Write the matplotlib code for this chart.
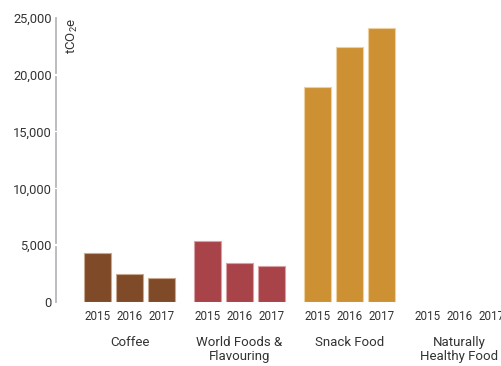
import numpy as np
import matplotlib.pyplot as plt
import matplotlib.transforms as mtransforms

plt.rcParams['font.family'] = ['Roboto', 'DejaVu Sans']
plt.rcParams['mathtext.fontset'] = 'custom'
plt.rcParams['mathtext.rm'] = 'Roboto'

categories = ['Coffee', 'World Foods &\nFlavouring', 'Snack Food', 'Naturally\nHealthy Food']
years = ['2015', '2016', '2017']
values = [
    [4300, 2480, 2100],
    [5370, 3450, 3190],
    [18950, 22450, 24090],
    [0, 0, 0],
]
colors = ['#7f4a27', '#a8434a', '#cd9133', '#7a9a3a']
edges = ['#c9a88f', '#d9a0a4', '#ecd0a0', '#c0d0a0']

fig = plt.figure(figsize=(5.02, 3.66), dpi=100)
ax = fig.add_axes([56 / 502, 64 / 366, 1 - 56 / 502, (302 - 18) / 366])

group_gap = 110 / 32
xs, xl = [], []
for g, cat in enumerate(categories):
    for j, yr in enumerate(years):
        x = g * group_gap + (j - 1)
        if values[g][j] > 0:
            ax.bar(x, values[g][j], width=27 / 32, color=colors[g],
                   edgecolor=edges[g], linewidth=0.8)
        xs.append(x)
        xl.append(yr)
    ax.text(g * group_gap, -0.12, cat, transform=mtransforms.blended_transform_factory(ax.transData, ax.transAxes),
            ha='center', va='top', fontsize=9.5, color='#333333', linespacing=1.05)

ax.set_xlim(-2.3, (502 - 129.5) / 32)
ax.set_ylim(0, 25000)
ax.set_xticks(xs)
ax.set_xticklabels(xl, fontsize=8.4, color='#333333')
yt = np.arange(0, 25001, 5000)
ax.set_yticks(yt)
ax.set_yticklabels([f'{v:,}' for v in yt], fontsize=9.3, color='#333333')
ax.tick_params(axis='both', length=0)
ax.tick_params(axis='x', pad=6)
ax.tick_params(axis='y', pad=3)
for s in ax.spines.values():
    s.set_visible(False)

# axis line broken at each tick
ytrans = mtransforms.blended_transform_factory(ax.transAxes, ax.transData)
for k in range(5):
    lo = k * 5000 + (0 if k == 0 else 160)
    hi = (k + 1) * 5000 - (0 if k == 4 else 160)
    ax.plot([0, 0], [lo, hi], color='#b8b8bc', lw=1.3, transform=ytrans, clip_on=False)

ax.text(0.02, 25050, r'tCO$_2$e', transform=ytrans, rotation=90,
        ha='left', va='top', fontsize=9.5, color='#333333')

fig.savefig('out.png', dpi=100)
